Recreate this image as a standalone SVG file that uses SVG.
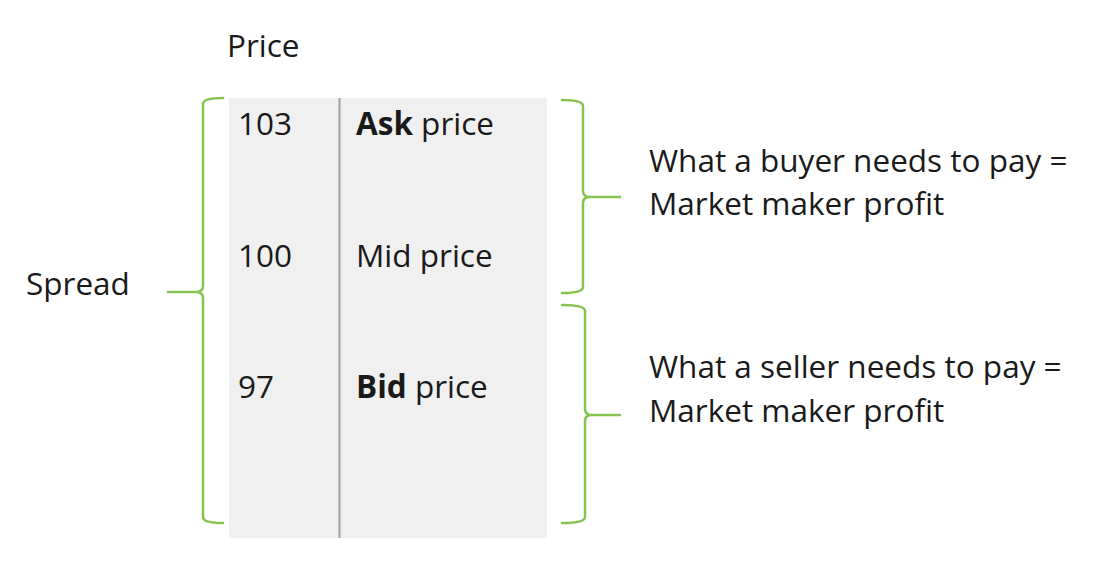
<svg xmlns="http://www.w3.org/2000/svg" width="1110" height="580" viewBox="0 0 1110 580">
<style>
text{font-family:"Open Sans","Liberation Sans",sans-serif;font-size:31.5px;fill:#1a1a1a}
.b{font-weight:bold}
.br{fill:none;stroke:#86c451;stroke-width:2.5;stroke-linecap:round;stroke-linejoin:round}
</style>
<rect width="1110" height="580" fill="#ffffff"/>
<g id="price-table">
<rect x="229" y="98" width="318" height="440" fill="#f0f0f0"/>
<line x1="339.5" y1="98" x2="339.5" y2="538" stroke="#a0a0a0" stroke-width="2"/>
<text x="227" y="57">Price</text>
<text x="238" y="135">103</text>
<text x="356" y="135"><tspan class="b">Ask</tspan> price</text>
<text x="238" y="267">100</text>
<text x="356" y="267">Mid price</text>
<text x="238" y="398">97</text>
<text x="356" y="398"><tspan class="b">Bid</tspan> price</text>
</g>
<g id="spread">
<text x="26" y="295">Spread</text>
</g>
<g id="buyer">
<text x="649" y="172">What a buyer needs to pay =</text>
<text x="649" y="215">Market maker profit</text>
</g>
<g id="seller">
<text x="649" y="378">What a seller needs to pay =</text>
<text x="649" y="422">Market maker profit</text>
</g>
<g id="connectors">
<path class="br" d="M223,98 Q203,98 203,104 L203,286 Q203,292 196,292 L168,292 M196,292 Q203,292 203,298 L203,517 Q203,523 223,523"/>
<path class="br" d="M562,100 Q583,100 583,106 L583,191 Q583,197 590,197 L620,197 M590,197 Q583,197 583,203 L583,287 Q583,293 562,293"/>
<path class="br" d="M562,305 Q585,305 585,311 L585,409 Q585,415 592,415 L620,415 M592,415 Q585,415 585,421 L585,517 Q585,523 562,523"/>
</g>
</svg>
